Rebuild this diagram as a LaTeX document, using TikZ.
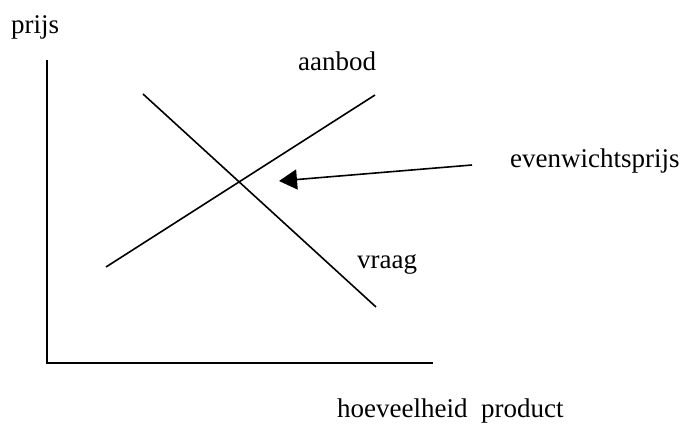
\documentclass[tikz,border=0pt]{standalone}
\usepackage{fontspec}
\setmainfont{Liberation Serif}
\usetikzlibrary{arrows.meta}
\begin{document}
\begin{tikzpicture}[x=1pt,y=-1pt,
  lbl/.style={anchor=base west,inner sep=0pt,font=\fontsize{27}{32}\selectfont},
  ln/.style={line width=1.6pt},
  arr/.style={line width=1.6pt,-{Triangle[length=18pt,width=20pt]}}]
\useasboundingbox (0,0) rectangle (684,423);
% axes
\coordinate (ytop) at (47,60);
\coordinate (orig) at (47,363);
\coordinate (xend) at (433,363);
\draw[ln] (ytop) -- (orig) -- (xend);
% curves
\coordinate (s1) at (106,267);
\coordinate (s2) at (375,95);
\coordinate (d1) at (143,94);
\coordinate (d2) at (376,307);
\draw[ln] (s1) -- (s2);
\draw[ln] (d1) -- (d2);
% labels
\node[lbl] (prijs) at (11,33) {prijs};
\node[lbl] (aanbod) at (298,70) {aanbod};
\node[lbl] (even) at (510,167) {evenwichtsprijs};
\node[lbl] (vraag) at (357,268) {vraag};
\node[lbl] (hoev) at (337,417) {hoeveelheid\ \ product};
% arrow
\coordinate (tail) at (472,165);
\coordinate (tip) at (279,181);
\draw[arr] (tail) -- (tip);
\end{tikzpicture}
\end{document}
